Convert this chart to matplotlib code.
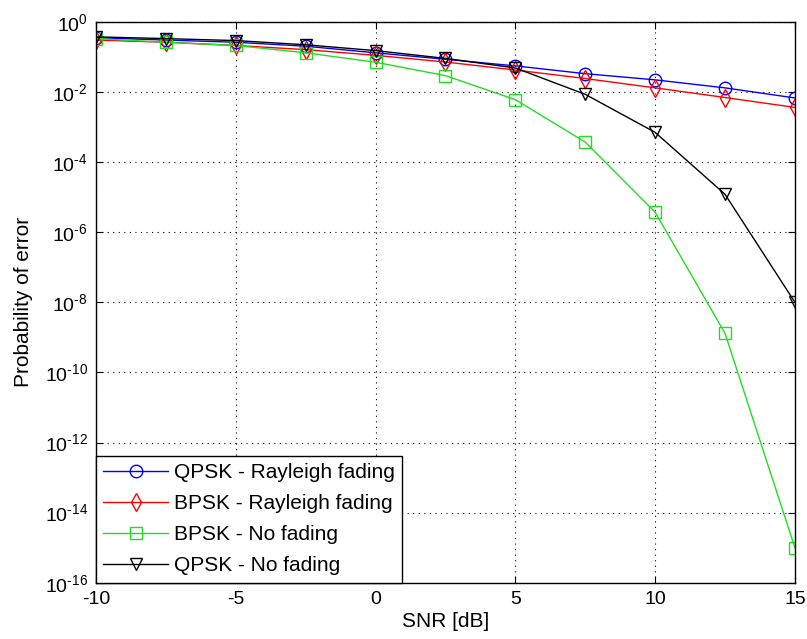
import math

import matplotlib
matplotlib.use('Agg')
import matplotlib.pyplot as plt
from matplotlib.ticker import FixedLocator, NullLocator, FuncFormatter

plt.rcParams['font.family'] = ['Liberation Sans', 'DejaVu Sans']
plt.rcParams['mathtext.fontset'] = 'custom'
plt.rcParams['mathtext.rm'] = 'Liberation Sans'
plt.rcParams['mathtext.it'] = 'Liberation Sans'
plt.rcParams['axes.unicode_minus'] = False

snr = [-10, -7.5, -5, -2.5, 0, 2.5, 5, 7.5, 10, 12.5, 15]

qpsk_rayleigh = [0.35, 0.30, 0.26, 0.20, 0.13, 0.085, 0.055, 0.033, 0.022, 0.013, 0.0067]
bpsk_rayleigh = [0.30, 0.26, 0.21, 0.16, 0.11, 0.071, 0.042, 0.024, 0.013, 0.0069, 0.0036]
bpsk_awgn = [0.33, 0.26, 0.21, 0.13, 0.07, 0.029, 0.006, 3.7e-4, 3.7e-6, 1.3e-9, 1.0e-15]
qpsk_awgn = [0.37, 0.33, 0.29, 0.22, 0.15, 0.09, 0.048, 8.5e-3, 7.0e-4, 1.2e-5, 1.0e-8]

labels = ['QPSK - Rayleigh fading', 'BPSK - Rayleigh fading',
          'BPSK - No fading', 'QPSK - No fading']


def log_label(v, pos):
    k = int(round(math.log10(v)))
    if k < 0:
        return r'$\mathregular{10^{\text{-}%d}}$' % -k
    return r'$\mathregular{10^{%d}}$' % k


fig = plt.figure(figsize=(8.07, 6.39), dpi=100)
ax = fig.add_axes([0.119, 0.088, 0.866, 0.878])

ax.semilogy(snr, qpsk_rayleigh, color='#0000ff', marker='o', mfc='none', ms=9, lw=1, label=labels[0])
ax.semilogy(snr, bpsk_rayleigh, color='#ff0000', marker='d', mfc='none', ms=9, lw=1, label=labels[1])
ax.semilogy(snr, bpsk_awgn, color='#22dd22', marker='s', mfc='none', ms=9, lw=1, label=labels[2])
ax.semilogy(snr, qpsk_awgn, color='#000000', marker='v', mfc='none', ms=9, lw=1, label=labels[3])

ax.set_xlim(-10, 15)
ax.set_ylim(1e-16, 1)
ax.yaxis.set_major_locator(FixedLocator([10.0**k for k in range(-16, 1, 2)]))
ax.yaxis.set_minor_locator(NullLocator())
ax.yaxis.set_major_formatter(FuncFormatter(log_label))
ax.set_xticks([-10, -5, 0, 5, 10, 15])

ax.grid(True, which='major', color='black', linestyle=(0, (1, 4)), linewidth=0.8)
ax.tick_params(direction='in', length=5, labelsize=14, top=True, right=True)
ax.tick_params(axis='x', pad=6)
ax.tick_params(axis='y', pad=6)
for s in ax.spines.values():
    s.set_linewidth(1)

ax.set_xlabel('SNR [dB]', fontsize=15, labelpad=3)
ax.set_ylabel('Probability of error', fontsize=15, labelpad=8)

leg = ax.legend(loc='lower left', fontsize=15, fancybox=False, edgecolor='black',
                framealpha=1, borderaxespad=0, handlelength=3.1, handletextpad=0.3,
                labelspacing=0.58, borderpad=0.35)
leg.get_frame().set_linewidth(1)

fig.savefig('out.png', dpi=100)
